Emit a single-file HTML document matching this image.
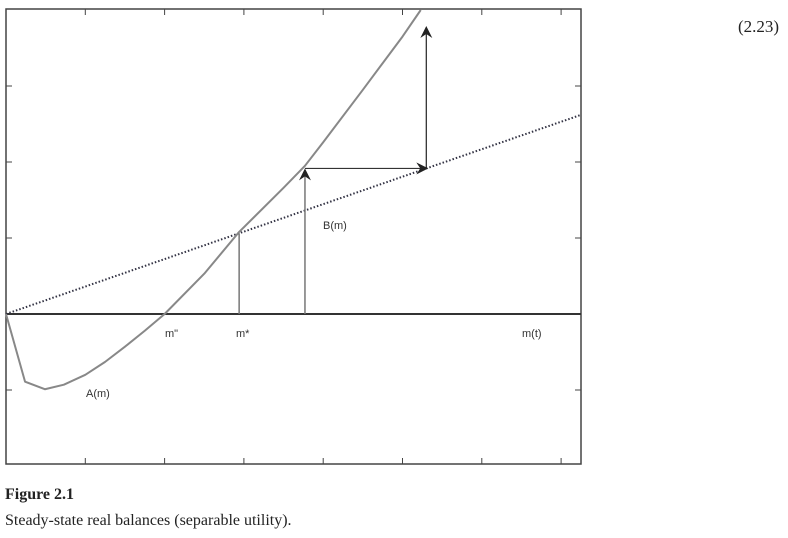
<!DOCTYPE html>
<html><head><meta charset="utf-8"><style>
body{margin:0;width:788px;height:538px;background:#fff;overflow:hidden;position:relative}
.t{position:absolute;font-family:"Liberation Serif",serif;color:#222}
</style></head><body>
<svg id="chart" width="788" height="538" style="position:absolute;left:0;top:0"></svg>
<div class="t" style="left:738px;top:17px;font-size:17px">(2.23)</div>
<div class="t" style="left:5px;top:486px;font-size:16px;font-weight:bold">Figure 2.1</div>
<div class="t" style="left:5px;top:512px;font-size:16px">Steady-state real balances (separable utility).</div>
<script>
const aX=[0,0.24,0.49,0.73,1.0,1.25,1.5,1.75,2,2.5,2.94,3.5,3.77,4,4.5,5,5.23];
const aY=[0,-0.89,-0.99,-0.93,-0.80,-0.63,-0.43,-0.22,0,0.53,1.08,1.66,1.95,2.26,2.95,3.65,4.0];
const bX=[0,7.25];
const bY=[0,2.62];
const xTicks=[1,2,3,4,5,6,7];
const yTicks=[-1,1,2,3];
const mStar=2.94, mT=3.77, mNext=5.3;
const NS="http://www.w3.org/2000/svg";
const svg=document.getElementById('chart');
const X0=6,XU=79.3,Y0=314,YU=76;
const sx=v=>X0+v*XU, sy=v=>Y0-v*YU;
function el(t,a){const e=document.createElementNS(NS,t);for(const k in a)e.setAttribute(k,a[k]);svg.appendChild(e);return e;}
const defs=el('defs',{});
defs.innerHTML='<marker id="ah" markerWidth="12" markerHeight="12" refX="10" refY="6" orient="auto" markerUnits="userSpaceOnUse"><path d="M0,0 L12,6 L0,12 L4,6 Z" fill="#222"/></marker>';
let e=el('rect',{x:6,y:9,width:575,height:455,fill:'none',stroke:'#444','stroke-width':1.5});

xTicks.forEach(v=>{
 e=el('line',{x1:sx(v),x2:sx(v),y1:464,y2:458,stroke:'#444'});
 
 e=el('line',{x1:sx(v),x2:sx(v),y1:9,y2:15,stroke:'#444'});
 
});
yTicks.forEach(v=>{
 e=el('line',{x1:6,x2:12,y1:sy(v),y2:sy(v),stroke:'#444'});
 
 e=el('line',{x1:575,x2:581,y1:sy(v),y2:sy(v),stroke:'#444'});
 
});
e=el('line',{x1:6,x2:581,y1:sy(0),y2:sy(0),stroke:'#333','stroke-width':2});

e=el('polyline',{points:bX.map((v,i)=>sx(v)+','+sy(bY[i])).join(' '),fill:'none',stroke:'#334','stroke-width':2,'stroke-dasharray':'1.5 2'});

e=el('polyline',{points:aX.map((v,i)=>sx(v)+','+sy(aY[i])).join(' '),fill:'none',stroke:'#888','stroke-width':2,'stroke-linejoin':'round'});

const bAt=x=>bY[0]+(bY[1]-bY[0])*(x-bX[0])/(bX[1]-bX[0]);
e=el('line',{x1:sx(mStar),x2:sx(mStar),y1:sy(0),y2:sy(bAt(mStar)),stroke:'#777','stroke-width':1.5});

const yT=bAt(mNext);
e=el('line',{x1:sx(mT),x2:sx(mT),y1:sy(0),y2:sy(yT)+2,stroke:'#777','stroke-width':1.5,'marker-end':'url(#ah)'});

e=el('line',{x1:sx(mT),x2:sx(mNext),y1:sy(yT),y2:sy(yT),stroke:'#333','stroke-width':1.2,'marker-end':'url(#ah)'});

e=el('line',{x1:sx(mNext),x2:sx(mNext),y1:sy(yT),y2:28,stroke:'#222','stroke-width':1.2,'marker-end':'url(#ah)'});

[['m"',165,337,'m-double-prime-label'],['m*',236,337,'m-star-label'],['m(t)',522,337,'m-t-label'],['A(m)',86,397,'a-label'],['B(m)',323,229,'b-label']].forEach(l=>{
 e=el('text',{x:l[1],y:l[2],'font-family':'Liberation Sans, sans-serif','font-size':11,fill:'#333'});
 e.textContent=l[0];
 
});
</script>
</body></html>
